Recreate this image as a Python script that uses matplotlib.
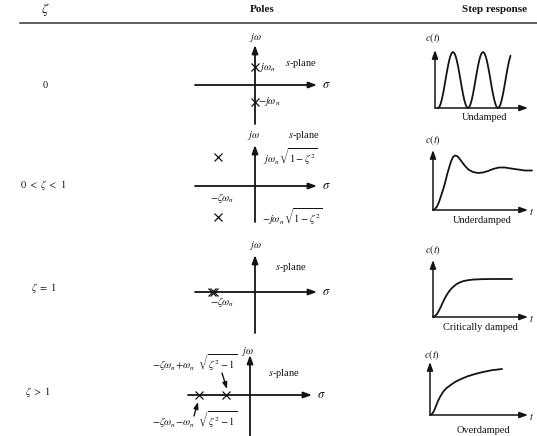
import matplotlib
matplotlib.use("Agg")
import matplotlib.pyplot as plt

plt.rcParams['font.family'] = ['Liberation Serif', 'DejaVu Serif']
plt.rcParams['mathtext.fontset'] = 'stix'

INK = '#141414'
W, H = 537, 436

# ---------------- data ----------------
zeta_labels = ['0', r'$0\ <\ \zeta\ <\ 1$', r'$\zeta\ =\ 1$', r'$\zeta\ >\ 1$']
response_labels = ['Undamped', 'Underdamped', 'Critically damped', 'Overdamped']

# pole locations (sigma, j*omega)
poles_re = [[0, 0], [-37, -37], [-43, -41], [-51, -24]]
poles_im = [[18, -17], [29, -31], [0, 0], [0, 0]]

# step responses c(t) read from the sketches
t_undamped = [3.00, 4.25, 5.50, 6.75, 8.00, 9.25, 10.50, 11.75, 13.00, 14.25, 15.50, 16.75,
              18.00, 19.25, 20.50, 21.75, 23.00, 24.25, 25.50, 26.75, 28.00, 29.25, 30.50,
              31.75, 33.00, 34.25, 35.50, 36.75, 38.00, 39.25, 40.50, 41.75, 43.00, 44.25,
              45.50, 46.75, 48.00, 49.25, 50.50, 51.75, 53.00, 54.25, 55.50, 56.75, 58.00,
              59.25, 60.50, 61.75, 63.00, 64.25, 65.50, 66.75, 68.00, 69.25, 70.50, 71.75,
              73.00, 74.25, 75.50]
c_undamped = [0, 0.95, 3.75, 8.2, 14, 20.75, 28, 35.25, 42, 47.8, 52.25, 55.05,
              56, 55.05, 52.25, 47.8, 42, 35.25, 28, 20.75, 14, 8.2, 3.75, 0.95,
              0, 0.95, 3.75, 8.2, 14, 20.75, 28, 35.25, 42, 47.8, 52.25, 55.05,
              56, 55.05, 52.25, 47.8, 42, 35.25, 28, 20.75, 14, 8.2, 3.75, 0.95,
              0, 0.95, 3.75, 8.2, 14, 20.75, 28, 35.25, 42, 47.8, 52.25]

t_under = [0, 2, 4, 6, 8, 10, 12, 14, 16, 18, 20, 22, 24, 26, 29, 32, 36, 40, 45, 50,
           55, 60, 66, 72, 78, 85, 92, 99]
c_under = [0, 1, 3.5, 8, 14, 20, 27, 35, 42, 48.5, 53, 54.5, 54, 52, 48, 44, 40, 38, 37,
           37.5, 39, 41, 42.5, 42.5, 41.5, 40.5, 39.5, 39.5]

t_crit = [0, 2, 4, 6, 8, 10, 12, 14, 16, 18, 20, 23, 26, 30, 35, 40, 48, 58, 70, 79]
c_crit = [0, 1, 3, 6.5, 10.5, 15, 19, 22.5, 25.5, 28, 30, 32.5, 34.2, 35.8, 36.8, 37.4,
          37.8, 38, 38, 38]

t_over = [0, 2, 4, 6, 8, 10, 13, 16, 20, 25, 30, 37, 45, 53, 62, 72]
c_over = [0, 1, 4, 9, 14, 18, 23, 26.5, 29.5, 33, 35.5, 38.5, 41, 43, 44.8, 46]

step_t = [t_undamped, t_under, t_crit, t_over]
step_c = [c_undamped, c_under, c_crit, c_over]

# ---------------- figure ----------------
fig = plt.figure(figsize=(W / 100, H / 100), dpi=100)
bg = fig.add_axes([0, 0, 1, 1])
bg.set_xlim(0, W)
bg.set_ylim(H, 0)
bg.axis('off')


def px_axes(ox, oy, left, right, down, up):
    rect = [(ox - left) / W, 1 - (oy + down) / H, (left + right) / W, (up + down) / H]
    ax = fig.add_axes(rect)
    ax.set_xlim(-left, right)
    ax.set_ylim(-down, up)
    ax.axis('off')
    return ax


def arrow(ax, x0, y0, x1, y1, lw=1.3, ms=9):
    ax.annotate('', xy=(x1, y1), xytext=(x0, y0),
                arrowprops=dict(arrowstyle='-|>,head_length=0.55,head_width=0.2',
                                lw=lw, color=INK, shrinkA=0, shrinkB=0,
                                mutation_scale=ms))


FS = 7.5

# header
bg.text(45, 9, r'$\zeta$', fontsize=10, ha='center', va='center', color=INK)
bg.text(262, 10, 'Poles', fontsize=8, fontweight='bold', ha='center', va='center', color=INK)
bg.text(495, 10, 'Step response', fontsize=8, fontweight='bold', ha='center', va='center', color=INK)
bg.axhline(23, xmin=20 / W, xmax=1, color='#333333', lw=1.1)

# zeta column
for lab, (x, y) in zip(zeta_labels, [(45, 85), (43, 185), (44, 288), (38, 392)]):
    bg.text(x, y, lab, fontsize=FS, ha='center', va='center', color=INK)

# ---------------- s-planes ----------------
# (origin px, horiz left, horiz tip, vert bottom, vert tip)
geo = [((255, 85), 60, 62, 39, 40),
       ((255, 186), 60, 62, 36, 41),
       ((255, 292), 60, 62, 41, 37),
       ((250, 395), 62, 62, 41, 40)]
sp_axes = []
for i, ((ox, oy), hl, hr, vd, vu) in enumerate(geo):
    ax = px_axes(ox, oy, 110, 80, 45, 60)
    sp_axes.append(ax)
    arrow(ax, -hl, 0, hr, 0)
    arrow(ax, 0, -vd, 0, vu)
    ax.text(hr + 5, 0, r'$\sigma$', fontsize=9, ha='left', va='center', color=INK)
    ax.plot(poles_re[i], poles_im[i], ls='none', marker='x', ms=5.5, mew=0.9,
            color=INK, clip_on=False)

a1, a2, a3, a4 = sp_axes
a1.text(0, 48, r'$j\omega$', fontsize=FS, ha='center', va='center', color=INK)
a1.text(30, 22, r'$s$-plane', fontsize=FS, ha='left', va='center', color=INK)
a1.text(4, 17, r'$j\omega_n$', fontsize=FS, ha='left', va='center', color=INK)
a1.text(3, -17, r'$-j\omega_n$', fontsize=FS, ha='left', va='center', color=INK)

a2.text(-2, 51, r'$j\omega$', fontsize=FS, ha='center', va='center', color=INK)
a2.text(33, 51, r'$s$-plane', fontsize=FS, ha='left', va='center', color=INK)
a2.text(8, 29, r'$j\omega_n\,\sqrt{1-\zeta^2}$', fontsize=FS, ha='left', va='center', color=INK)
a2.text(7, -31, r'$-j\omega_n\,\sqrt{1-\zeta^2}$', fontsize=FS, ha='left', va='center', color=INK)
a2.text(-33, -12, r'$-\zeta\omega_n$', fontsize=FS, ha='center', va='center', color=INK)

a3.text(0, 47, r'$j\omega$', fontsize=FS, ha='center', va='center', color=INK)
a3.text(20, 25, r'$s$-plane', fontsize=FS, ha='left', va='center', color=INK)
a3.text(-33, -10, r'$-\zeta\omega_n$', fontsize=FS, ha='center', va='center', color=INK)

a4.text(-3, 43, r'$j\omega$', fontsize=FS, ha='center', va='center', color=INK)
a4.text(18, 22, r'$s$-plane', fontsize=FS, ha='left', va='center', color=INK)
a4.text(-98, 32, r'$-\zeta\omega_n\!+\!\omega_n\ \ \sqrt{\zeta^2-1}$', fontsize=FS,
        ha='left', va='center', color=INK)
a4.text(-98, -25, r'$-\zeta\omega_n\!-\!\omega_n\ \ \sqrt{\zeta^2-1}$', fontsize=FS,
        ha='left', va='center', color=INK)
arrow(a4, -28, 22, -23, 6, lw=1.0, ms=7)
arrow(a4, -56, -21, -52, -7, lw=1.0, ms=7)

# ---------------- step responses ----------------
sgeo = [((435, 108), 93, 58, (-2, 70), (50, -10)),
        ((433, 210), 95, 60, (0, 70), (49, -10)),
        ((433, 317), 95, 57, (0, 67), (47, -10)),
        ((430, 415), 98, 53, (2, 60), (53, -15))]
for i, ((ox, oy), ht, vt, cpos, lpos) in enumerate(sgeo):
    ax = px_axes(ox, oy, 15, 110, 30, 80)
    arrow(ax, 0, 0, ht, 0, lw=1.1)
    arrow(ax, 0, 0, 0, vt, lw=1.1)
    ax.plot(step_t[i], step_c[i], color=INK, lw=1.3, clip_on=False,
            solid_joinstyle='round', solid_capstyle='round')
    ax.text(cpos[0], cpos[1], r'$c(t)$', fontsize=FS, ha='center', va='center', color=INK)
    ax.text(lpos[0], lpos[1], response_labels[i], fontsize=FS, ha='center', va='center',
            color=INK)
    if i >= 1:
        ax.text(W - 3 - ox, -1, r'$t$', fontsize=FS, ha='right', va='center', color=INK)

fig.savefig('out.png', dpi=100)
